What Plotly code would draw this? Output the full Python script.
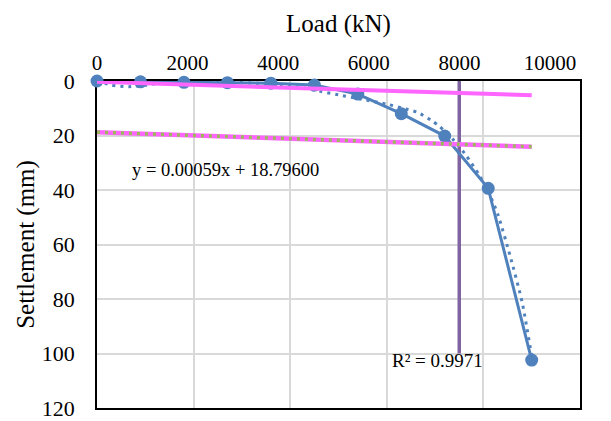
import plotly.graph_objects as go

load = [0, 900, 1800, 2700, 3600, 4500, 5400, 6300, 7200, 8100, 9000]
settlement = [0, 0.3, 0.5, 0.6, 0.8, 1.5, 4.8, 12.0, 20.2, 39.4, 102.4]

trend_x = [0, 300, 650, 1000, 1300, 1600, 2200, 2800, 3400, 3800, 4200, 4600, 5000, 5400,
           6000, 6400, 6650, 6950, 7100, 7400, 7650, 7900, 8100, 8300, 8550, 8800, 9000]
trend_y = [0, 1.5, 2.1, 1.6, 0.8, 0.4, 0.3, 0.5, 0.9, 1.4, 2.3, 3.7, 5.1, 6.4,
           8.5, 10.3, 11.6, 14.8, 16.8, 22.0, 27.5, 34.2, 40.5, 49.0, 64.0, 81.0, 101.0]

line1_x = [0, 9000]
line1_y = [0.3, 5.2]
line2_x = [0, 9000]
line2_y = [18.796, 18.796 + 0.00059 * 9000]
vert_x = [7500, 7500]
vert_y = [0, 100]

x_ticks = [0, 2000, 4000, 6000, 8000, 10000]
x_ticktext = ["0", "2000", "4000", "6000", "8000", "10000"]
y_ticks = [0, 20, 40, 60, 80, 100, 120]

FONT = "Liberation Serif"
BLUE = "#4F81BD"
MAGENTA = "#FF66FF"
GREEN = "#9BBB59"
PURPLE = "#8064A2"

fig = go.Figure()
fig.add_trace(go.Scatter(x=vert_x, y=vert_y, mode="lines",
                         line=dict(color=PURPLE, width=3.5), cliponaxis=False))
fig.add_trace(go.Scatter(x=load, y=settlement, mode="lines+markers",
                         line=dict(color=BLUE, width=3),
                         marker=dict(color=BLUE, size=13), cliponaxis=False))
fig.add_trace(go.Scatter(x=trend_x, y=trend_y, mode="lines",
                         line=dict(color=BLUE, width=3, dash="3px,5px", shape="spline", smoothing=0.6),
                         cliponaxis=False))
fig.add_trace(go.Scatter(x=line1_x, y=line1_y, mode="lines",
                         line=dict(color=MAGENTA, width=4), cliponaxis=False))
fig.add_trace(go.Scatter(x=line2_x, y=line2_y, mode="lines",
                         line=dict(color=MAGENTA, width=4.5), cliponaxis=False))
fig.add_trace(go.Scatter(x=line2_x, y=line2_y, mode="lines",
                         line=dict(color=GREEN, width=3.5, dash="3px,5px"), cliponaxis=False))
# invisible trace that carries the top label axis
fig.add_trace(go.Scatter(x=[None], y=[None], xaxis="x2", mode="lines", showlegend=False))

fig.add_annotation(x=690, y=32.7, text="y = 0.00059x + 18.79600", showarrow=False,
                   xanchor="left", yanchor="middle", font=dict(family=FONT, size=18.5, color="black"))
fig.add_annotation(x=6060, y=102.6, text="R² = 0.9971", showarrow=False,
                   xanchor="left", yanchor="middle", font=dict(family=FONT, size=19, color="black"))

# the page body adds an 8px offset, so margins are shifted to compensate
fig.update_layout(
    width=611, height=421,
    margin=dict(l=89, r=39, t=73, b=21, autoexpand=False),
    paper_bgcolor="white", plot_bgcolor="white",
    showlegend=False,
    font=dict(family=FONT, size=21, color="black"),
    xaxis=dict(range=[0, 10000], tickvals=x_ticks, showticklabels=False, automargin=False,
               showgrid=True, gridcolor="#D9D9D9", gridwidth=1.5,
               showline=True, linecolor="black", linewidth=1.5, mirror=True,
               zeroline=False, layer="below traces", side="top"),
    xaxis2=dict(range=[0, 10662], overlaying="x", side="top", tickvals=x_ticks, ticktext=x_ticktext,
                showgrid=False, showline=False, zeroline=False, automargin=True,
                ticks="outside", ticklen=2, tickcolor="rgba(0,0,0,0)",
                tickfont=dict(family=FONT, size=21, color="black"),
                title=dict(text="Load (kN)", font=dict(family=FONT, size=25, color="black"), standoff=10)),
    yaxis=dict(range=[120, 0], tickvals=y_ticks, automargin=True,
               showgrid=True, gridcolor="#D9D9D9", gridwidth=1.5,
               showline=True, linecolor="black", linewidth=1.5, mirror=True,
               zeroline=False, layer="below traces",
               ticks="outside", ticklen=16, tickcolor="rgba(0,0,0,0)",
               tickfont=dict(family=FONT, size=22, color="black"),
               title=dict(text="Settlement (mm)", font=dict(family=FONT, size=25, color="black"), standoff=0)),
)

fig.write_html("out.html")
